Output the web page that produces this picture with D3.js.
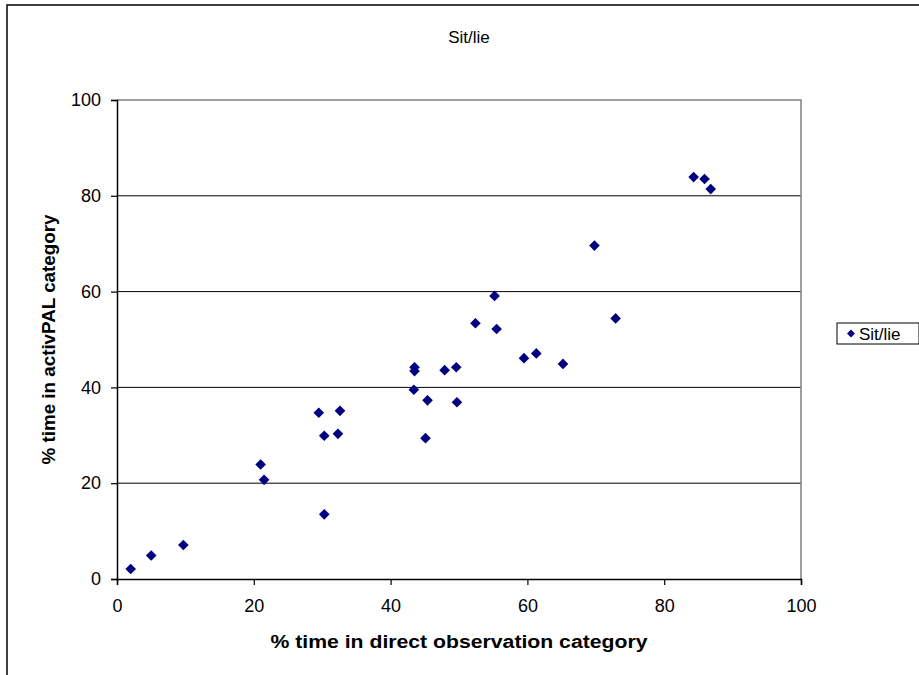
<!DOCTYPE html>
<html>
<head>
<meta charset="utf-8">
<script src="https://cdn.jsdelivr.net/npm/d3@7"></script>
<style>
  body { margin: 0; background: #fff; }
  svg text { font-family: "Liberation Sans", Arial, sans-serif; }
</style>
</head>
<body>
<div id="chart"></div>
<script>
// data (% time, direct observation vs activPAL)
var seriesName = "Sit/lie";
var observed = [2.0, 5.0, 9.7, 21.0, 21.5, 29.5, 30.3, 30.3, 32.6, 32.3,
  43.5, 43.5, 43.4, 45.4, 45.1, 47.9, 49.6, 49.7, 52.4, 55.2,
  55.5, 59.5, 61.3, 65.2, 69.8, 72.9, 84.3, 85.9, 86.8];
var activPAL = [2.1, 4.9, 7.1, 23.9, 20.7, 34.7, 29.9, 13.5, 35.1, 30.3,
  44.2, 43.4, 39.5, 37.3, 29.4, 43.6, 44.2, 36.9, 53.4, 59.1,
  52.2, 46.1, 47.1, 44.9, 69.6, 54.4, 83.9, 83.5, 81.4];
var xTicks = [0, 20, 40, 60, 80, 100];
var yTicks = [0, 20, 40, 60, 80, 100];

var width = 919, height = 675;
var margin = { top: 100, right: 118, bottom: 96, left: 117 };
var plotW = width - margin.left - margin.right;
var plotH = height - margin.top - margin.bottom;
var markColor = "#000080";

var svg = d3.select("#chart").append("svg")
  .attr("width", width)
  .attr("height", height);

// outer chart frame (runs off the right and bottom of the picture)
svg.append("path")
  .attr("d", "M7," + height + "V5H" + width)
  .attr("fill", "none")
  .attr("stroke", "#000")
  .attr("stroke-width", 1.5);

var g = svg.append("g")
  .attr("transform", "translate(" + margin.left + "," + margin.top + ")");

var x = d3.scaleLinear().domain([0, 100]).range([0, plotW]);
var y = d3.scaleLinear().domain([0, 100]).range([plotH, 0]);

// horizontal gridlines
g.selectAll(".grid")
  .data(yTicks.filter(function (d) { return d > 0 && d < 100; }))
  .enter().append("line")
  .attr("class", "grid")
  .attr("x1", 0).attr("x2", plotW)
  .attr("y1", function (d) { return y(d); })
  .attr("y2", function (d) { return y(d); })
  .attr("stroke", "#000")
  .attr("stroke-width", 1);

// top and right plot border, grey
g.append("path")
  .attr("d", "M0,0H" + plotW + "V" + plotH)
  .attr("fill", "none")
  .attr("stroke", "#808080")
  .attr("stroke-width", 1.5);

// axes
var xAxis = g.append("g")
  .attr("transform", "translate(0," + plotH + ")")
  .call(d3.axisBottom(x).tickValues(xTicks).tickSize(6).tickPadding(11));
var yAxis = g.append("g")
  .call(d3.axisLeft(y).tickValues(yTicks).tickSize(6).tickPadding(10));

[xAxis, yAxis].forEach(function (ax) {
  ax.select(".domain").attr("stroke", "#000").attr("stroke-width", 1.5);
  ax.selectAll(".tick line").attr("stroke", "#000").attr("stroke-width", 1.2);
  ax.selectAll(".tick text")
    .attr("fill", "#000")
    .style("font-size", "18px")
    .style("font-family", "'Liberation Sans', Arial, sans-serif");
});
xAxis.selectAll(".tick text").attr("dy", "0.9em");

// points as diamonds
var diamond = d3.symbol().type(d3.symbolDiamond2).size(72);
g.selectAll(".pt")
  .data(observed.map(function (v, i) { return [v, activPAL[i]]; }))
  .enter().append("path")
  .attr("class", "pt")
  .attr("d", diamond)
  .attr("transform", function (d) { return "translate(" + x(d[0]) + "," + y(d[1]) + ")"; })
  .attr("fill", markColor);

// chart title
svg.append("text")
  .attr("x", 469).attr("y", 43)
  .attr("text-anchor", "middle")
  .style("font-size", "17px")
  .text(seriesName);

// axis titles
svg.append("text")
  .attr("x", 459).attr("y", 648)
  .attr("text-anchor", "middle")
  .attr("textLength", 377)
  .attr("lengthAdjust", "spacingAndGlyphs")
  .style("font-size", "18px")
  .style("font-weight", "bold")
  .text("% time in direct observation category");

svg.append("text")
  .attr("transform", "translate(55," + (margin.top + plotH / 2) + ") rotate(-90)")
  .attr("text-anchor", "middle")
  .attr("textLength", 250)
  .attr("lengthAdjust", "spacingAndGlyphs")
  .style("font-size", "18px")
  .style("font-weight", "bold")
  .text("% time in activPAL category");

// legend
var legend = svg.append("g").attr("transform", "translate(837,323)");
legend.append("rect")
  .attr("width", 82).attr("height", 21)
  .attr("fill", "#fff")
  .attr("stroke", "#000")
  .attr("stroke-width", 1);
legend.append("path")
  .attr("d", d3.symbol().type(d3.symbolDiamond2).size(40))
  .attr("transform", "translate(14,10.5)")
  .attr("fill", markColor);
legend.append("text")
  .attr("x", 22).attr("y", 16.5)
  .style("font-size", "17px")
  .text(seriesName);
</script>
</body>
</html>
